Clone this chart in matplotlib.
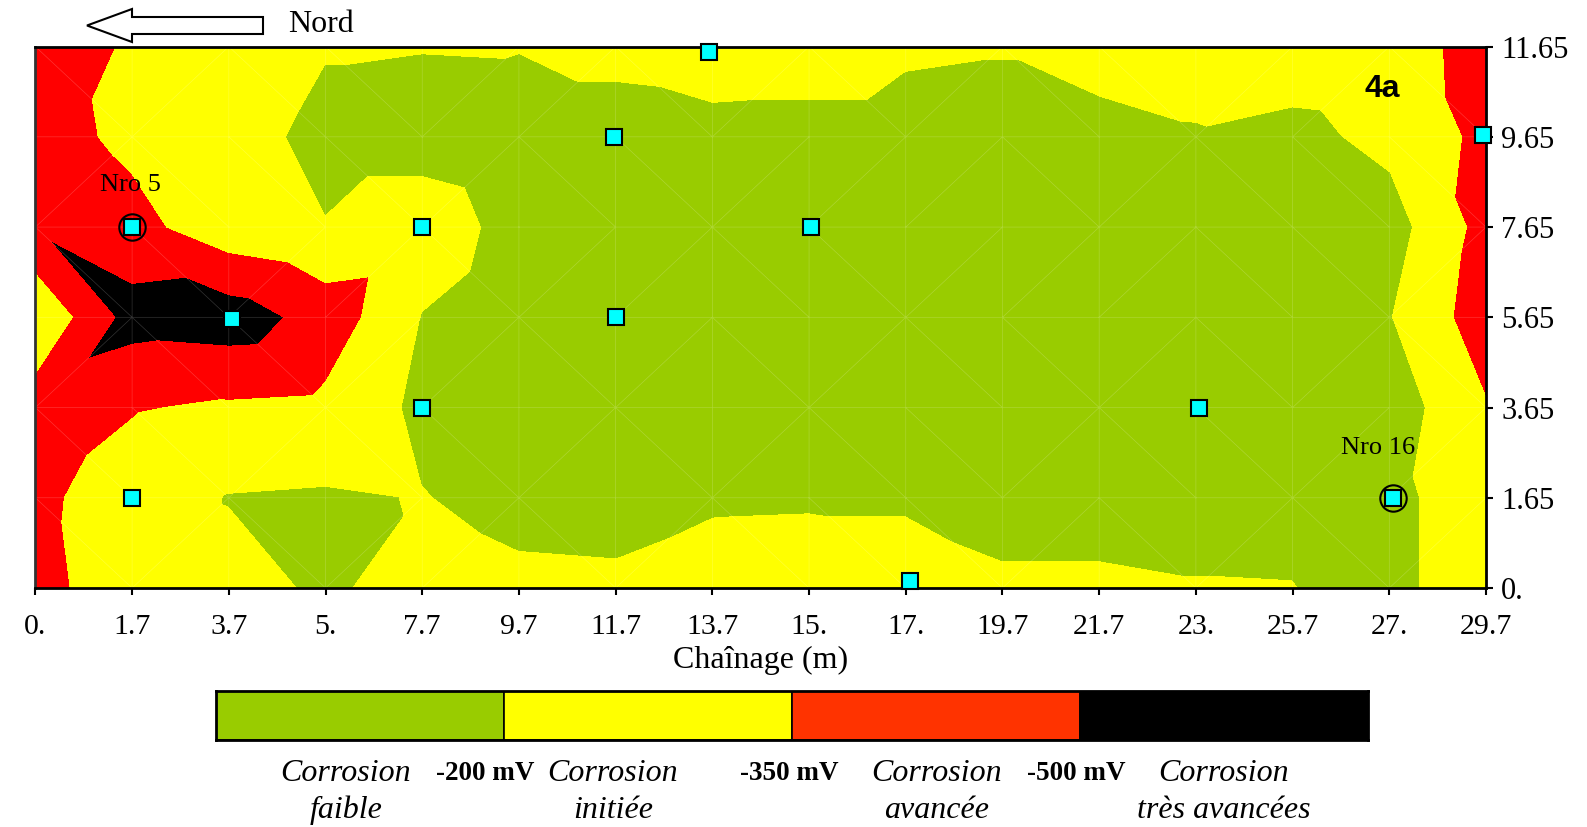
import numpy as np
import matplotlib.pyplot as plt
import matplotlib.tri as mtri
from matplotlib.patches import FancyArrow

plt.rcParams['font.family'] = ['Liberation Serif', 'DejaVu Serif']

# axes labels (the grid is evenly spaced, labels as printed)
x_labels = ['0.', '1.7', '3.7', '5.', '7.7', '9.7', '11.7', '13.7', '15.', '17.',
            '19.7', '21.7', '23.', '25.7', '27.', '29.7']
y_labels = ['0.', '1.65', '3.65', '5.65', '7.65', '9.65', '11.65']

# potentials (mV), one list per row, bottom (0.) to top (11.65)
pot_0 = [-395, -270, -250, -180, -255, -225, -220, -255, -260, -248, -213, -213, -205, -203, -157, -300]
pot_1 = [-380, -280, -195, -185, -205, -165, -160, -185, -188, -188, -170, -170, -170, -170, -157, -300]
pot_2 = [-430, -360, -330, -315, -170, -150, -150, -150, -150, -150, -150, -150, -150, -150, -121, -340]
pot_3 = [-220, -560, -580, -440, -198, -160, -140, -140, -140, -140, -140, -140, -150, -150, -195, -430]
pot_4 = [-490, -400, -260, -205, -240, -175, -140, -140, -140, -140, -140, -140, -150, -140, -140, -403]
pot_5 = [-415, -315, -245, -170, -170, -150, -150, -160, -160, -160, -160, -160, -190, -160, -240, -387]
pot_6 = [-400, -340, -280, -208, -203, -205, -233, -268, -260, -216, -207, -251, -257, -285, -300, -391]

# measurement points (grid units)
pts_x = [1.0, 2.03, 1.0, 4.0, 4.0, 5.98, 6.0, 6.97, 8.02, 9.04, 12.03, 14.04, 14.97]
pts_y = [4.0, 2.98, 1.0, 4.0, 2.0, 5.0, 3.0, 5.94, 4.0, 0.08, 2.0, 1.0, 5.02]
nro_x = [1.0, 14.04]
nro_y = [4.0, 1.0]
nro_names = ['Nro 5', 'Nro 16']

levels = [-800, -500, -350, -200, 0]
map_colors = ['black', '#FF0000', '#FFFF00', '#99CC00']
legend_colors = ['#99CC00', '#FFFF00', '#FF3300', 'black']
legend_names = ['Corrosion\nfaible', 'Corrosion\ninitiée', 'Corrosion\navancée', 'Corrosion\ntrès avancées']
legend_limits = ['-200 mV', '-350 mV', '-500 mV']

pot = np.array([pot_0, pot_1, pot_2, pot_3, pot_4, pot_5, pot_6], dtype=float)

W, H = 1587, 827
fig = plt.figure(figsize=(W/100, H/100), dpi=100)
ax = fig.add_axes([35.4/W, 1-588/H, (1486-35.4)/W, (588-46.6)/H])

X, Y = np.meshgrid(np.arange(len(x_labels)), np.arange(len(y_labels)))
tri = mtri.Triangulation(X.ravel(), Y.ravel())
ax.tricontourf(tri, pot.ravel(), levels=levels, colors=map_colors)
ax.triplot(tri, color='white', lw=0.5, alpha=0.2)

ax.plot(pts_x, pts_y, 's', color='#00FFFF', mec='black', mew=1.5, ms=12, clip_on=False, zorder=5)
ax.plot(nro_x, nro_y, 'o', mfc='none', mec='black', mew=1.5, ms=19, clip_on=False, zorder=6)
offsets = [(-1.5, 30), (-11, 36)]
for x, y, name, off in zip(nro_x, nro_y, nro_names, offsets):
    ax.annotate(name, (x, y), xytext=off, textcoords='offset points',
                ha='center', va='center', fontsize=19)

ax.set_xlim(0, len(x_labels) - 1)
ax.set_ylim(0, len(y_labels) - 1)
ax.set_xticks(range(len(x_labels)))
ax.set_xticklabels(x_labels)
ax.set_yticks(range(len(y_labels)))
ax.set_yticklabels(y_labels)
ax.yaxis.tick_right()
ax.tick_params(direction='out', length=5, width=1.5)
ax.tick_params(axis='x', labelsize=21.5, pad=14)
ax.tick_params(axis='y', labelsize=22, pad=6)
ax.set_xlabel('Chaînage (m)', fontsize=23, labelpad=4)
for s in ax.spines.values():
    s.set_linewidth(2)
ax.spines['left'].set_color('#333333')

ax.text(1382.5/W, 1-89/H, '4a', transform=fig.transFigure, ha='center', va='center',
        fontsize=23, fontweight='bold', family='Liberation Sans')

# north arrow
fig.add_artist(FancyArrow(2.63, (H-25.5)/100, -1.76, 0, width=0.17, head_width=0.33, head_length=0.45,
                          length_includes_head=True, fc='white', ec='black', lw=1.5,
                          transform=fig.dpi_scale_trans))
fig.text(288.5/W, 1-24/H, 'Nord', ha='left', va='center', fontsize=23)

# legend bar
lax = fig.add_axes([215.6/W, 1-739.8/H, (1368.4-215.6)/W, 48.5/H])
lax.bar(range(4), [1]*4, width=1, color=legend_colors, edgecolor='black', lw=1.2)
lax.set_xlim(-0.5, 3.5)
lax.set_ylim(0, 1)
lax.set_xticks([])
lax.set_yticks([])
for s in lax.spines.values():
    s.set_linewidth(2)

name_x = [346, 613, 937, 1224]
for x, name in zip(name_x, legend_names):
    fig.text(x/W, 1-792/H, name, ha='center', va='center', style='italic', fontsize=23, linespacing=1.32)
lim_x = [485.6, 789.5, 1076.4]
for x, lab in zip(lim_x, legend_limits):
    fig.text(x/W, 1-773/H, lab, ha='center', va='center', fontweight='bold', fontsize=19.5)

fig.savefig('out.png', dpi=100)
